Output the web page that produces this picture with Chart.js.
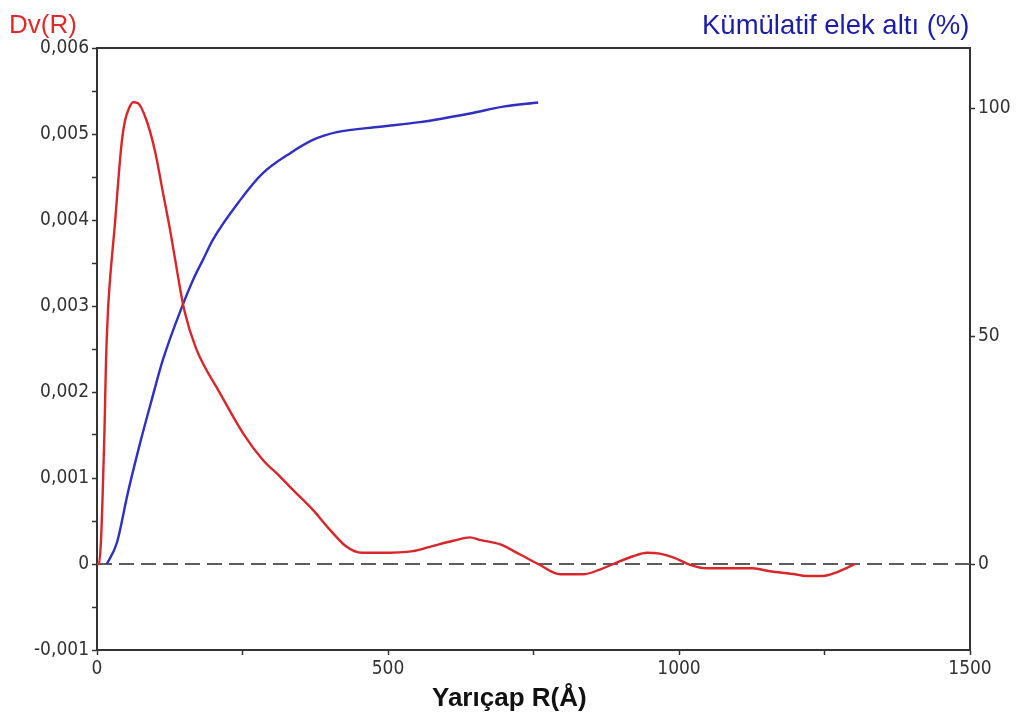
<!DOCTYPE html>
<html>
<head>
<meta charset="utf-8">
<title>Dv(R) - Kümülatif elek altı</title>
<script src="https://cdn.jsdelivr.net/npm/chart.js@4.4.1/dist/chart.umd.min.js"></script>
<style>
  html, body { margin: 0; padding: 0; background: #fff; }
  #wrap { width: 1016px; height: 718px; position: relative; }
</style>
</head>
<body>
<div id="wrap"><canvas id="psd"></canvas></div>
<script>
// radius (Å) and volume distribution Dv(R) in units of 0.001
const dvRadius = [0, 3.4, 6.9, 9.8, 12.9, 15.5, 18.9, 22.3, 27.5, 31, 36, 42.4, 48, 55, 62, 70, 85, 100, 113, 127, 139, 150, 170,
  211, 251, 285, 314, 334, 371, 400, 429, 455, 486, 543, 572, 612, 641, 658, 692, 727, 758, 796, 835, 864, 887,
  921, 945, 967, 990, 1019, 1048, 1127, 1156, 1196, 1219, 1247, 1271, 1288, 1302];
const dvValues = [0, 0, 0.28, 0.83, 1.56, 2.37, 2.95, 3.30, 3.71, 3.97, 4.41, 4.90, 5.15, 5.30, 5.37, 5.36, 5.16, 4.79, 4.33, 3.83, 3.35, 2.95, 2.51,
  1.99, 1.52, 1.21, 1.02, 0.88, 0.63, 0.40, 0.20, 0.13, 0.13, 0.15, 0.20, 0.27, 0.31, 0.28, 0.23, 0.11, 0, -0.12, -0.12, -0.065, 0,
  0.09, 0.13, 0.12, 0.077, -0.01, -0.05, -0.05, -0.085, -0.116, -0.14, -0.14, -0.097, -0.047, 0];

// cumulative undersize (%)
const cumRadius = [17, 34, 53, 74, 94, 113, 146, 165, 182, 199, 246, 285, 332, 371, 412, 486, 555, 641, 698, 758];
const cumValues = [0, 4.6, 15.6, 26.5, 36.0, 44.7, 56.4, 62.3, 66.7, 71.1, 79.8, 85.7, 90.1, 93.0, 94.7, 95.9, 96.9, 98.8, 100.3, 101.2];

// axes
const radiusTicks = [0, 250, 500, 750, 1000, 1250, 1500];
const radiusLabels = ["0", "", "500", "", "1000", "", "1500"];
const dvTicks = [-0.001, -0.0005, 0, 0.0005, 0.001, 0.0015, 0.002, 0.0025, 0.003, 0.0035, 0.004, 0.0045, 0.005, 0.0055, 0.006];
const dvLabels = ["-0,001", "", "0", "", "0,001", "", "0,002", "", "0,003", "", "0,004", "", "0,005", "", "0,006"];
const cumTicks = [0, 50, 100];
const cumLabels = ["0", "50", "100"];
const cumMin = -18.86;
const cumMax = 113.16;

const leftTitle = "Dv(R)";
const rightTitle = "Kümülatif elek altı (%)";
const bottomTitle = "Yarıçap R(Å)";

const tickFont = { family: "'DejaVu Sans Condensed', 'Liberation Sans Narrow', sans-serif", size: 19 };
const axisColor = "#333";

function toPoints(xs, ys, scale) {
  let pts = [];
  for (let i = 0; i < xs.length; i++) {
    pts.push({ x: xs[i], y: ys[i] * scale });
  }
  return pts;
}

function fixTicks(list) {
  return function (scale) {
    scale.ticks = list.map(v => ({ value: v }));
  };
}

function tickAxis(labels) {
  return {
    grid: { display: true, drawOnChartArea: false, drawTicks: true, tickLength: 5, tickWidth: 1.5, tickColor: axisColor },
    border: { display: true, color: axisColor, width: 2 },
    ticks: {
      font: tickFont,
      color: axisColor,
      padding: 3,
      autoSkip: false,
      maxRotation: 0,
      callback: (v, i) => labels[i]
    }
  };
}

// top frame line and the three axis titles
const framePlugin = {
  id: "frame",
  afterDraw(chart) {
    const ctx = chart.ctx;
    const area = chart.chartArea;
    ctx.save();
    ctx.strokeStyle = axisColor;
    ctx.lineWidth = 2;
    ctx.beginPath();
    ctx.moveTo(area.left - 1, area.top);
    ctx.lineTo(area.right + 1, area.top);
    ctx.stroke();

    ctx.textBaseline = "alphabetic";
    ctx.textAlign = "left";
    ctx.fillStyle = "#e02a2a";
    ctx.font = "26px 'Liberation Sans', Arial, sans-serif";
    ctx.fillText(leftTitle, 9, 33);

    ctx.fillStyle = "#1c1caa";
    ctx.font = "27.5px 'Liberation Sans', Arial, sans-serif";
    ctx.fillText(rightTitle, 702, 34);

    ctx.fillStyle = "#111";
    ctx.font = "bold 26px 'Liberation Sans', Arial, sans-serif";
    ctx.fillText(bottomTitle, 432, 706);
    ctx.restore();
  }
};

let xAxis = tickAxis(radiusLabels);
xAxis.type = "linear";
xAxis.min = 0;
xAxis.max = 1500;
xAxis.afterBuildTicks = fixTicks(radiusTicks);
xAxis.afterFit = s => { s.height = 68; };

let yAxis = tickAxis(dvLabels);
yAxis.position = "left";
yAxis.min = -0.001;
yAxis.max = 0.006;
yAxis.afterBuildTicks = fixTicks(dvTicks);
yAxis.afterFit = s => { s.width = 97; };

let y1Axis = tickAxis(cumLabels);
y1Axis.position = "right";
y1Axis.min = cumMin;
y1Axis.max = cumMax;
y1Axis.afterBuildTicks = fixTicks(cumTicks);
y1Axis.afterFit = s => { s.width = 46; };

let chartContext = document.getElementById("psd").getContext("2d");
let chart = new Chart(chartContext, {
  type: "line",
  data: {
    datasets: [
      {
        label: "Dv(R)",
        data: toPoints(dvRadius, dvValues, 0.001),
        yAxisID: "y",
        borderColor: "#d8262a",
        borderWidth: 2.4,
        cubicInterpolationMode: "monotone",
        pointRadius: 0,
        fill: false
      },
      {
        label: rightTitle,
        data: toPoints(cumRadius, cumValues, 1),
        yAxisID: "y1",
        borderColor: "#2f2fc4",
        borderWidth: 2.4,
        cubicInterpolationMode: "monotone",
        pointRadius: 0,
        fill: false
      },
      {
        label: "0",
        data: [{ x: 0, y: 0 }, { x: 1500, y: 0 }],
        yAxisID: "y",
        borderColor: "#5c5c5c",
        borderWidth: 2,
        borderDash: [15, 7],
        pointRadius: 0,
        fill: false
      }
    ]
  },
  options: {
    responsive: true,
    maintainAspectRatio: false,
    animation: false,
    layout: { padding: { top: 48, left: 0, right: 0, bottom: 0 } },
    plugins: { legend: { display: false }, tooltip: { enabled: false } },
    scales: { x: xAxis, y: yAxis, y1: y1Axis }
  },
  plugins: [framePlugin]
});
</script>
</body>
</html>
